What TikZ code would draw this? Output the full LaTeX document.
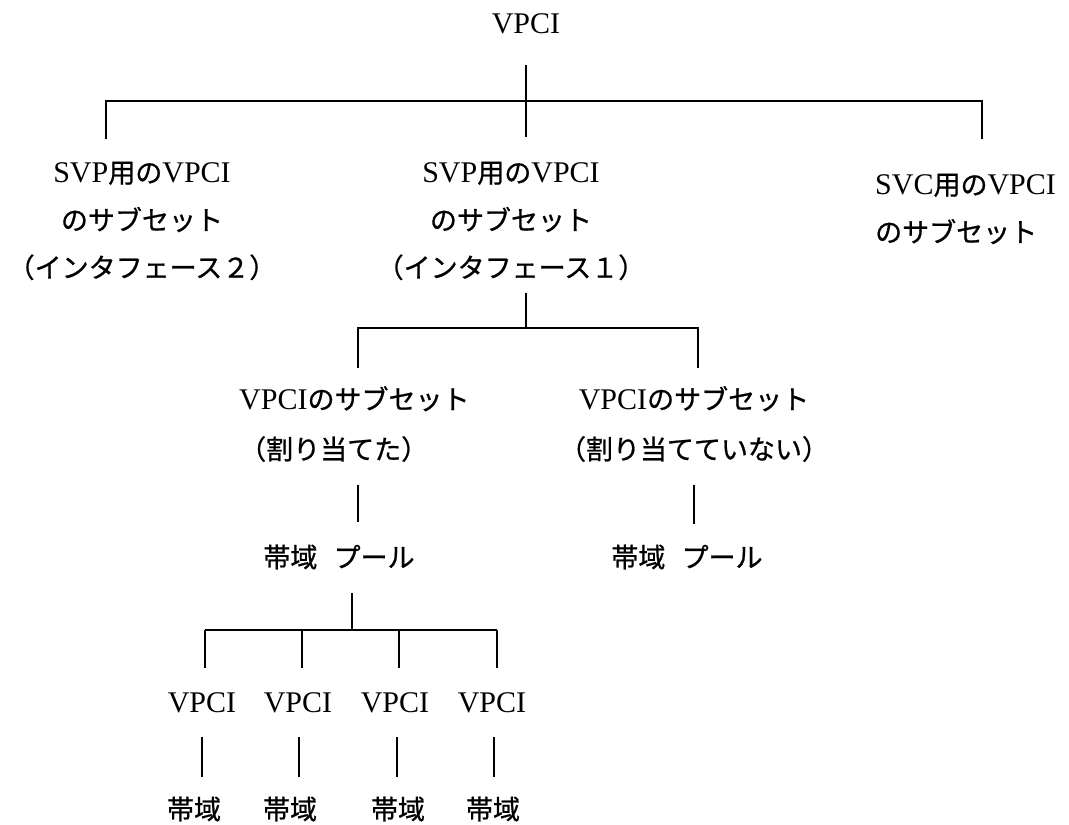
\documentclass[tikz,border=0pt]{standalone}
\usepackage{fontspec}
\setmainfont{Liberation Serif}
\newfontfamily\jp[Scale=0.9,FakeBold=0.8]{Noto Sans CJK JP}
\begin{document}
\begin{tikzpicture}[x=1pt,y=-1pt,
  every node/.style={inner sep=0pt, font=\fontsize{30}{47.5}\selectfont},
  wide/.style={font=\fontsize{30}{50}\selectfont},
  tree/.style={line width=1.6pt}]
\useasboundingbox (0,0) rectangle (1069,825);
% texts
\node (root) at (526,24) {VPCI};
\node[align=center] (svp2) at (142,221) {SVP{\jp 用の}VPCI\\{\jp のサブセット}\\{\jp （インタフェース２）}};
\node[align=center] (svp1) at (511,221) {SVP{\jp 用の}VPCI\\{\jp のサブセット}\\{\jp （インタフェース１）}};
\node[align=left,anchor=west] (svc) at (875,209) {SVC{\jp 用の}VPCI\\{\jp のサブセット}};
\node[wide,align=left,anchor=west] (asg) at (239,424) {VPCI{\jp のサブセット}\\{\jp （割り当てた）}};
\node[wide,align=center] (nasg) at (694,424) {VPCI{\jp のサブセット}\\{\jp （割り当てていない）}};
\node (poolA) at (339,557) {\jp 帯域\hspace{0.6em}プール};
\node (poolB) at (687,557) {\jp 帯域\hspace{0.6em}プール};
\foreach \i/\x/\bx in {1/202/194,2/298/290,3/395/398,4/492/493}{
  \node (v\i) at (\x,703) {VPCI};
  \node (b\i) at (\bx,809) {\jp 帯域};
}
% junction coordinates
\coordinate (r0) at (526,65);  \coordinate (r1) at (526,101);
\coordinate (hl) at (106,101); \coordinate (hr) at (982,101);
\coordinate (t2) at (106,139); \coordinate (t1) at (526,137); \coordinate (t3) at (982,139);
\coordinate (s0) at (526,293); \coordinate (s1) at (526,328);
\coordinate (sl) at (358,328); \coordinate (sr) at (698,328);
\coordinate (u1) at (358,368); \coordinate (u2) at (698,368);
\coordinate (p1) at (358,485); \coordinate (p1e) at (358,522);
\coordinate (p2) at (694,485); \coordinate (p2e) at (694,524);
\coordinate (q0) at (352,593); \coordinate (q1) at (352,630);
\coordinate (ql) at (205,630); \coordinate (qr) at (497,630);
% connectors
\draw[tree] (r0) -- (t1);
\draw[tree] (t2) -- (hl) -- (hr) -- (t3);
\draw[tree] (s0) -- (s1);
\draw[tree] (u1) -- (sl) -- (sr) -- (u2);
\draw[tree] (p1) -- (p1e);
\draw[tree] (p2) -- (p2e);
\draw[tree] (q0) -- (q1);
\draw[tree] (ql) -- (qr);
\foreach \i/\x/\lx in {1/205/202,2/302/299,3/399/397,4/497/494}{
  \coordinate (k\i) at (\x,630); \coordinate (ke\i) at (\x,668);
  \draw[tree] (k\i) -- (ke\i);
  \coordinate (m\i) at (\lx,737); \coordinate (me\i) at (\lx,777);
  \draw[tree] (m\i) -- (me\i);
}
\end{tikzpicture}
\end{document}
